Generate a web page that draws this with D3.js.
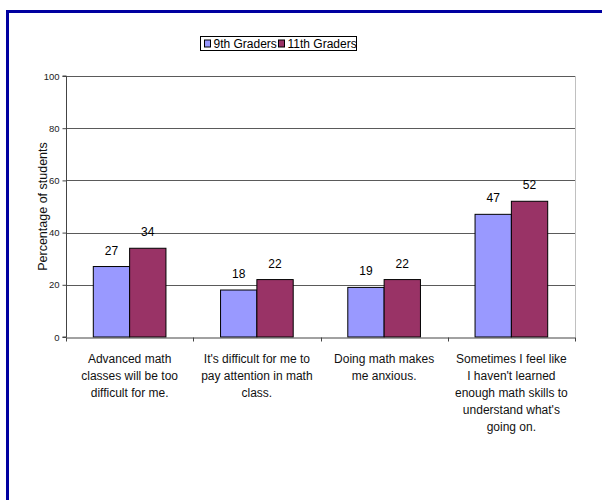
<!DOCTYPE html>
<html>
<head>
<meta charset="utf-8">
<script src="https://cdn.jsdelivr.net/npm/d3@7"></script>
<style>
  html, body { margin: 0; padding: 0; background: #fff; }
  svg { display: block; font-family: "Liberation Sans", Arial, sans-serif; }
</style>
</head>
<body>
<svg id="chart" width="602" height="500"></svg>
<script>
// Survey statements (category axis), one label line per entry
const categories = [
  ["Advanced math", "classes will be too", "difficult for me."],
  ["It's difficult for me to", "pay attention in math", "class."],
  ["Doing math makes", "me anxious."],
  ["Sometimes I feel like", "I haven't learned", "enough math skills to", "understand what's", "going on."]
];
const seriesNames = ["9th Graders", "11th Graders"];
const grade9 = [27, 18, 19, 47];
const grade11 = [34, 22, 22, 52];
const yTicks = [0, 20, 40, 60, 80, 100];
const colors = ["#9999FF", "#993366"];

const svg = d3.select("#chart");

// Outer frame (blue border on top and left)
svg.append("path")
  .attr("d", "M7.5,520 L7.5,11.5 L620,11.5")
  .attr("fill", "none")
  .attr("stroke", "#0000A0")
  .attr("stroke-width", 3);

const plot = { left: 66, right: 575, top: 76, bottom: 337 };

const x = d3.scaleBand()
  .domain(d3.range(categories.length))
  .range([plot.left, plot.right])
  .paddingInner(0)
  .paddingOuter(0);

const groupPad = 27.3;
const xs = d3.scaleBand()
  .domain([0, 1])
  .range([groupPad, x.bandwidth() - groupPad]);

const y = d3.scaleLinear().domain([0, 100]).range([plot.bottom, plot.top]);

// Horizontal gridlines
svg.append("g")
  .selectAll("line")
  .data(yTicks.filter(d => d > 0))
  .join("line")
  .attr("x1", plot.left).attr("x2", plot.right)
  .attr("y1", d => Math.round(y(d)) + 0.5).attr("y2", d => Math.round(y(d)) + 0.5)
  .attr("stroke", "#5a5a5a").attr("stroke-width", 1);

// Right plot edge
svg.append("line")
  .attr("x1", plot.right + 0.5).attr("x2", plot.right + 0.5)
  .attr("y1", Math.round(y(100))).attr("y2", plot.bottom)
  .attr("stroke", "#c0c0c0").attr("stroke-width", 1);

// Bars
const series = [grade9, grade11];
const groups = svg.append("g")
  .selectAll("g")
  .data(categories.map((c, i) => i))
  .join("g")
  .attr("transform", i => `translate(${x(i)},0)`);

groups.selectAll("rect")
  .data(i => series.map((s, k) => ({ k, v: s[i] })))
  .join("rect")
  .attr("x", d => xs(d.k))
  .attr("width", xs.bandwidth())
  .attr("y", d => y(d.v))
  .attr("height", d => y(0) - y(d.v))
  .attr("fill", d => colors[d.k])
  .attr("stroke", "#000")
  .attr("stroke-width", 1);

groups.selectAll("text.val")
  .data(i => series.map((s, k) => ({ k, v: s[i] })))
  .join("text")
  .attr("class", "val")
  .attr("x", d => xs(d.k) + xs.bandwidth() / 2)
  .attr("y", d => y(d.v) - 12)
  .attr("text-anchor", "middle")
  .attr("font-size", 12)
  .attr("fill", "#000")
  .text(d => d.v);

// Y axis
const yAxis = d3.axisLeft(y).tickValues(yTicks).tickSize(4).tickPadding(3);
const gy = svg.append("g")
  .attr("transform", `translate(${plot.left + 0.5},0)`)
  .call(yAxis);
gy.select(".domain").attr("stroke", "#444").attr("d", `M-4,${y(100)}H0V${y(0)}H-4`);
gy.selectAll(".tick line").attr("stroke", "#444");
gy.selectAll(".tick text").attr("font-size", 9.5).attr("fill", "#222")
  .attr("font-family", "Liberation Sans, Arial, sans-serif");

// X axis baseline and category separators
const xAxis = d3.axisBottom(x).tickSize(0).tickFormat(() => "");
const gx = svg.append("g")
  .attr("transform", `translate(0,${plot.bottom + 0.5})`)
  .call(xAxis);
gx.select(".domain").attr("stroke", "#444");
gx.append("g")
  .selectAll("line")
  .data(d3.range(categories.length + 1))
  .join("line")
  .attr("x1", i => Math.round(plot.left + i * x.bandwidth()) + 0.5)
  .attr("x2", i => Math.round(plot.left + i * x.bandwidth()) + 0.5)
  .attr("y1", 0).attr("y2", 4)
  .attr("stroke", "#444");

// Category labels
svg.append("g")
  .selectAll("text")
  .data(categories.map((c, i) => ({ c, i })))
  .join("text")
  .attr("text-anchor", "middle")
  .attr("font-size", 12)
  .attr("fill", "#111")
  .each(function(d) {
    const t = d3.select(this);
    d.c.forEach((line, j) => {
      t.append("tspan")
        .attr("x", x(d.i) + x.bandwidth() / 2)
        .attr("y", 362.5 + j * 17)
        .text(line);
    });
  });

// Y axis title
svg.append("text")
  .attr("transform", `translate(47,${(plot.top + plot.bottom) / 2}) rotate(-90)`)
  .attr("text-anchor", "middle")
  .attr("font-size", 12.5)
  .attr("fill", "#111")
  .text("Percentage of students");

// Legend
const legend = svg.append("g").attr("transform", "translate(200.5,36.5)");
legend.append("rect")
  .attr("width", 156).attr("height", 14)
  .attr("fill", "#fff").attr("stroke", "#000");
const legendX = [4, 78];
seriesNames.forEach((name, k) => {
  legend.append("rect")
    .attr("x", legendX[k]).attr("y", 3.5)
    .attr("width", 6).attr("height", 7)
    .attr("fill", colors[k]).attr("stroke", "#000");
  legend.append("text")
    .attr("x", legendX[k] + 9).attr("y", 11.5)
    .attr("font-size", 12)
    .attr("fill", "#000")
    .text(name);
});
</script>
</body>
</html>
